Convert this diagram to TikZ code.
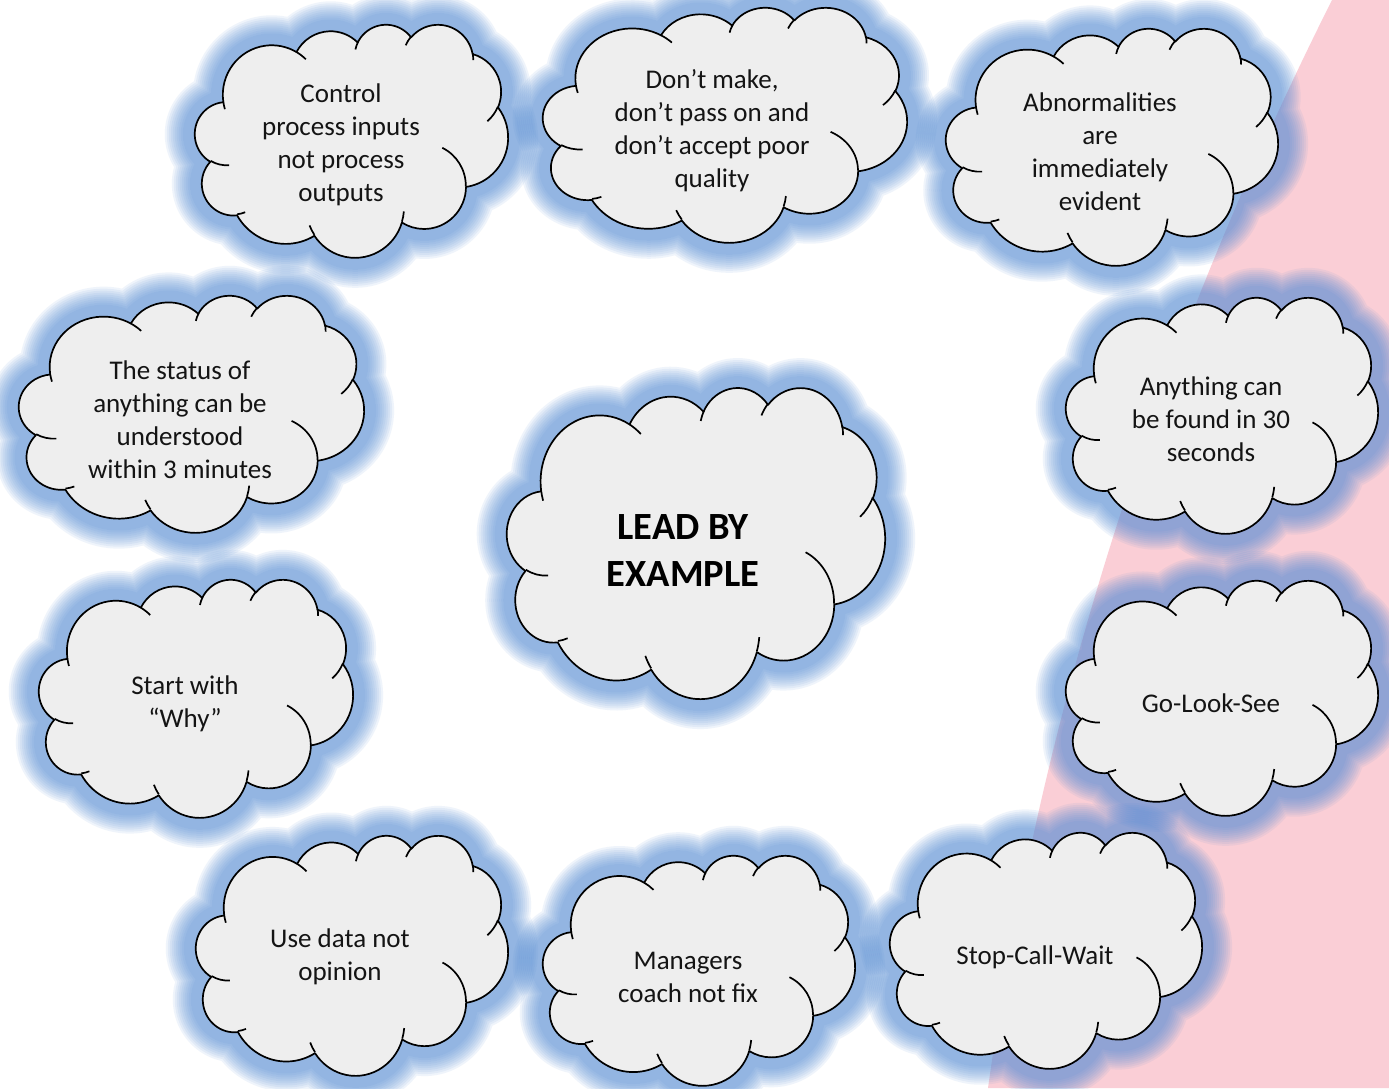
\documentclass[tikz,border=0pt]{standalone}
\usepackage{fontspec}
\setmainfont{Carlito}
\definecolor{pinkbg}{RGB}{250,206,214}
\definecolor{glowc}{RGB}{80,138,212}
\definecolor{cloudfill}{RGB}{238,238,238}
\definecolor{txt}{RGB}{20,20,20}
% convert DrawingML visual angles to parametric angles
\newcommand\prearc[5]{%
  \pgfmathsetmacro\tmpa{atan2((#2)*sin(#4),(#3)*cos(#4))}%
  \pgfmathsetmacro\tmpb{atan2((#2)*sin((#4)+(#5)),(#3)*cos((#4)+(#5)))}%
  \pgfmathsetmacro\tmpd{\tmpb-\tmpa}%
  \pgfmathsetmacro\tmpd{(#5)>0 ? (\tmpd<0 ? \tmpd+360 : \tmpd) : (\tmpd>0 ? \tmpd-360 : \tmpd)}%
  \expandafter\let\csname cld#1s\endcsname\tmpa
  \expandafter\let\csname cld#1d\endcsname\tmpd}
\prearc{A}{67.53}{91.90}{-190.48748}{123.78053}
\prearc{B}{53.33}{72.67}{-144.10238}{89.94523}
\prearc{C}{43.65}{59.45}{-145.80792}{99.72302}
\prearc{D}{48.57}{65.95}{-130.98607}{117.24173}
\prearc{E}{53.33}{72.73}{-78.70888}{109.02692}
\prearc{F}{67.75}{92.20}{-46.26725}{130.26900}
\prearc{G}{57.85}{78.67}{0.62502}{114.03333}
\prearc{H}{67.52}{92.15}{22.45160}{115.17255}
\prearc{I}{77.20}{105.43}{66.24263}{75.71102}
\prearc{J}{43.60}{59.18}{-274.94208}{146.73557}
\prearc{K}{43.45}{59.45}{-246.82850}{152.51885}
\prearc{a}{43.45}{59.45}{86.74200}{26.42950}
\prearc{b}{43.60}{59.18}{73.61047}{11.44747}
\prearc{c}{67.52}{92.15}{137.62415}{14.08110}
\prearc{d}{67.52}{92.15}{6.45327}{15.99835}
\prearc{e}{57.85}{78.67}{-70.29235}{70.91737}
\prearc{f}{53.33}{72.73}{30.31803}{27.75150}
\prearc{g}{48.57}{65.95}{-13.74433}{14.85890}
\prearc{h}{48.57}{65.95}{-149.18145}{18.19537}
\prearc{i}{43.65}{59.45}{-163.49427}{17.68635}
\prearc{j}{67.53}{91.90}{-66.70695}{12.31935}
\prearc{k}{67.53}{91.90}{157.65435}{11.85817}
\newcommand\cloudouter[1]{\path[#1] (39,143.7)
 arc[x radius=67.53,y radius=91.90,start angle=\cldAs,delta angle=\cldAd]
 arc[x radius=53.33,y radius=72.67,start angle=\cldBs,delta angle=\cldBd]
 arc[x radius=43.65,y radius=59.45,start angle=\cldCs,delta angle=\cldCd]
 arc[x radius=48.57,y radius=65.95,start angle=\cldDs,delta angle=\cldDd]
 arc[x radius=53.33,y radius=72.73,start angle=\cldEs,delta angle=\cldEd]
 arc[x radius=67.75,y radius=92.20,start angle=\cldFs,delta angle=\cldFd]
 arc[x radius=57.85,y radius=78.67,start angle=\cldGs,delta angle=\cldGd]
 arc[x radius=67.52,y radius=92.15,start angle=\cldHs,delta angle=\cldHd]
 arc[x radius=77.20,y radius=105.43,start angle=\cldIs,delta angle=\cldId]
 arc[x radius=43.60,y radius=59.18,start angle=\cldJs,delta angle=\cldJd]
 arc[x radius=43.45,y radius=59.45,start angle=\cldKs,delta angle=\cldKd]
 -- cycle;}
\newcommand\cloudinner[1]{\path[#1]
 (46.93,261.77) arc[x radius=43.45,y radius=59.45,start angle=\cldas,delta angle=\cldad]
 (69.28,348.99) arc[x radius=43.60,y radius=59.18,start angle=\cldbs,delta angle=\cldbd]
 (164.78,390.90) arc[x radius=67.52,y radius=92.15,start angle=\cldcs,delta angle=\cldcd]
 (288.27,347.51) arc[x radius=67.52,y radius=92.15,start angle=\cldds,delta angle=\clddd]
 (341.29,229.54) arc[x radius=57.85,y radius=78.67,start angle=\cldes,delta angle=\clded]
 (417.98,153.54) arc[x radius=53.33,y radius=72.73,start angle=\cldfs,delta angle=\cldfd]
 (383.24,54.26) arc[x radius=48.57,y radius=65.95,start angle=\cldgs,delta angle=\cldgd]
 (290.78,39.52) arc[x radius=48.57,y radius=65.95,start angle=\cldhs,delta angle=\cldhd]
 (221.41,47.20) arc[x radius=43.65,y radius=59.45,start angle=\cldis,delta angle=\cldid]
 (140.00,51.92) arc[x radius=67.53,y radius=91.90,start angle=\cldjs,delta angle=\cldjd]
 (41.27,157.89) arc[x radius=67.53,y radius=91.90,start angle=\cldks,delta angle=\cldkd]
 ;}
\newcommand\cloudglow[4]{\begin{scope}[shift={(#1,-#2)},xscale=#3/432,yscale=-#4/432]
 \foreach \r in {12,14,...,30}{\cloudouter{draw=glowc,line width={2*\r pt},opacity=0.085,line join=round}}
\end{scope}}
\newcommand\cloudbody[4]{\begin{scope}[shift={(#1,-#2)},xscale=#3/432,yscale=-#4/432]
 \cloudouter{fill=cloudfill,draw=black,line width=1.7pt,line join=round}
 \cloudinner{draw=black,line width=1.7pt}
\end{scope}}
\tikzset{
  cloudtext/.style={align=center,inner sep=0pt,text=txt,font=\fontsize{27}{33}\selectfont},
  maintext/.style={align=center,inner sep=0pt,text=black,font=\bfseries\fontsize{38.5}{47}\selectfont}
}
\begin{document}
\begin{tikzpicture}[x=1pt,y=1pt]
\useasboundingbox (0,0) rectangle (1389,-1088);
\fill[white] (0,0) rectangle (1389,-1088);
\fill[pinkbg] (1332,0) .. controls (1150,-363) and (1039,-725) .. (988,-1088) -- (1389,-1088) -- (1389,0) -- cycle;
% glows
\cloudglow{195}{24}{313}{233}
\cloudglow{543}{7}{364}{235}
\cloudglow{946}{28}{332}{237}
\cloudglow{19}{295}{345}{237}
\cloudglow{39}{579}{314}{238}
\cloudglow{196}{835}{312}{240}
\cloudglow{543}{855}{312}{230}
\cloudglow{890}{832}{312}{236}
\cloudglow{1066}{297}{312}{236}
\cloudglow{1066}{580}{312}{235}
\cloudglow{507}{387}{378}{311}
% clouds
\cloudbody{195}{24}{313}{233}
\cloudbody{543}{7}{364}{235}
\cloudbody{946}{28}{332}{237}
\cloudbody{19}{295}{345}{237}
\cloudbody{39}{579}{314}{238}
\cloudbody{196}{835}{312}{240}
\cloudbody{543}{855}{312}{230}
\cloudbody{890}{832}{312}{236}
\cloudbody{1066}{297}{312}{236}
\cloudbody{1066}{580}{312}{235}
\cloudbody{507}{387}{378}{311}
% texts
\node[cloudtext] (tA) at (341,-145) {Control\\process inputs\\not process\\outputs};
\node[cloudtext] (tB) at (712,-131) {Don’t make,\\don’t pass on and\\don’t accept poor\\quality};
\node[cloudtext] (tC) at (1100,-152) {Abnormalities\\are\\immediately\\evident};
\node[cloudtext] (tD) at (180,-420) {The status of\\anything can be\\understood\\within 3 minutes};
\node[cloudtext] (tE) at (185,-704) {Start with\\“Why”};
\node[cloudtext] (tF) at (340,-957) {Use data not\\opinion};
\node[cloudtext] (tG) at (688,-977) {Managers\\coach not fix};
\node[cloudtext] (tH) at (1035,-957) {Stop-Call-Wait};
\node[cloudtext] (tI) at (1211,-419) {Anything can\\be found in 30\\seconds};
\node[cloudtext] (tJ) at (1211,-703) {Go-Look-See};
\node[maintext] (tK) at (683,-551) {LEAD BY\\EXAMPLE};
\end{tikzpicture}
\end{document}
